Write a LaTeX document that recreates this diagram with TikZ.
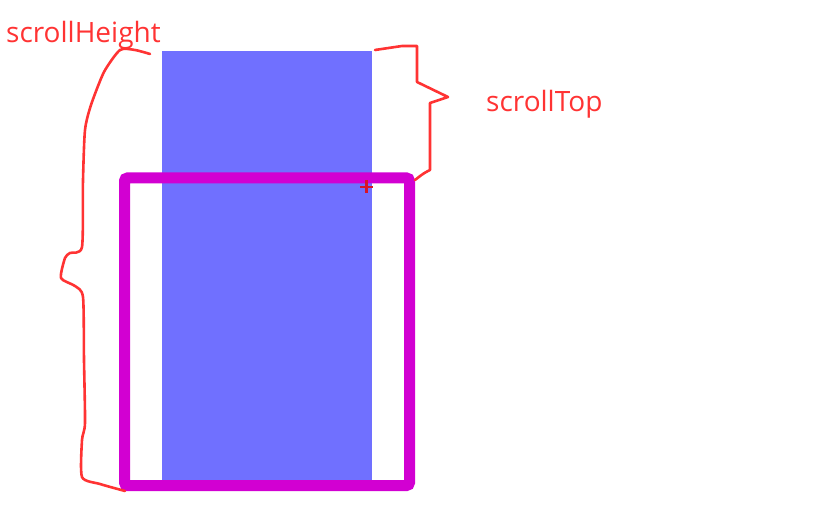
\documentclass[tikz,border=0pt]{standalone}
\usepackage{fontspec}
\setmainfont{Open Sans}
\definecolor{barblue}{RGB}{112,112,255}
\definecolor{framemag}{RGB}{210,0,210}
\definecolor{penred}{RGB}{255,51,51}
\definecolor{crossred}{RGB}{215,20,40}

\begin{document}
\begin{tikzpicture}[x=1pt, y=-1pt]
		\useasboundingbox (0, 0) rectangle (825, 513);
		% content column (full scroll height)
		\fill [barblue] (162, 51) rectangle (372, 482);
		% visible window
		\draw [framemag, line width=11pt, rounded corners=3pt] (124.5, 178) rectangle (409.5, 485.5);
		% small cross at the window corner
		\draw [crossred, line width=2.2pt] (360, 187) -- (373, 187);
		\draw [crossred, line width=2.2pt] (366.5, 180.5) -- (366.5, 193.5);
		% hand drawn brace for scrollHeight
		\draw [penred, line width=2.6pt, line join=round, line cap=round, smooth, tension=0.4] plot coordinates {
			(150, 54) (135, 50) (120, 50) (104, 72) (91, 105) (85, 130) (83, 180) (82, 247)
			(70, 253) (65, 258) (61, 278) (75, 286) (83, 297) (84, 360) (85, 423) (82, 440)
			(82, 477) (100, 484) (125, 491)};
		% hand drawn brace for scrollTop
		\draw [penred, line width=2.6pt, line join=round, line cap=round] (375, 50) -- (402, 46) -- (417, 46)
			-- (417, 82) -- (448, 97) -- (430, 103) -- (430, 170) [rounded corners=4pt] -- (424, 173) -- (415, 180);
		\node (sheight) [penred, anchor=base west, inner sep=0pt, font=\fontsize{28}{32}\selectfont] at (6, 43) {scrollHeight};
		\node (stop) [penred, anchor=base west, inner sep=0pt, font=\fontsize{28}{32}\selectfont] at (486, 112) {scrollTop};
	\end{tikzpicture}
\end{document}
